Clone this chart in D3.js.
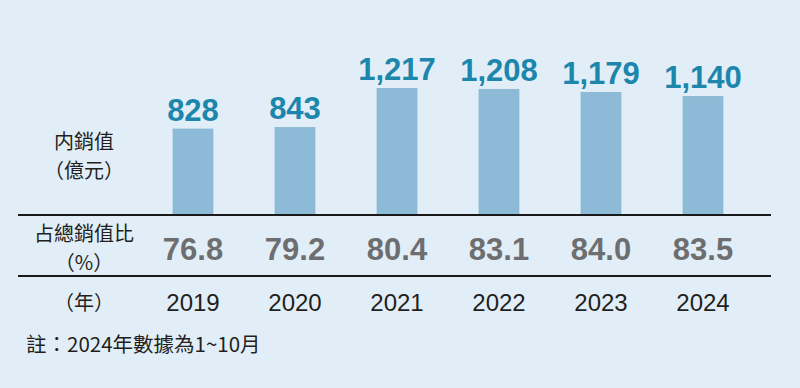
<!DOCTYPE html>
<html>
<head>
<meta charset="utf-8">
<script src="https://cdn.jsdelivr.net/npm/d3@7"></script>
<style>
  html, body { margin: 0; padding: 0; background: #e2eef7; }
  svg { display: block; }
</style>
</head>
<body>
<svg id="chart" width="800" height="388"></svg>
<script>
const years = ["2019", "2020", "2021", "2022", "2023", "2024"];
const domesticSales = [828, 843, 1217, 1208, 1179, 1140];
const shareOfTotal = ["76.8", "79.2", "80.4", "83.1", "84.0", "83.5"];
const salesLabel = ["内銷值", "（億元）"];
const shareLabel = ["占總銷值比", "（%）"];
const yearLabel = "（年）";
const footnote = "註：2024年數據為1~10月";

const W = 800, H = 388;
const svg = d3.select("#chart");
const FONT = "'Liberation Sans', Arial, 'Noto Sans CJK TC', sans-serif";
const CJK = "'Noto Sans CJK TC', 'Noto Sans CJK SC', sans-serif";

svg.append("rect").attr("width", W).attr("height", H).attr("fill", "#e2eef7");

const x = d3.scaleBand().domain(years).range([142, 754]).paddingInner(0.6).paddingOuter(0.3);
const baseY = 215;
const y = d3.scaleLinear().domain([0, 1217]).range([baseY, 88]);

const data = years.map((yr, i) => ({ yr, v: domesticSales[i], p: shareOfTotal[i] }));

// bars
svg.selectAll("rect.bar").data(data).join("rect")
  .attr("class", "bar")
  .attr("x", d => x(d.yr))
  .attr("width", x.bandwidth())
  .attr("y", d => y(d.v))
  .attr("height", d => baseY - y(d.v))
  .attr("fill", "#8dbbd7");

// value labels
svg.selectAll("text.val").data(data).join("text")
  .attr("class", "val")
  .attr("x", d => x(d.yr) + x.bandwidth() / 2)
  .attr("y", d => y(d.v) - 8)
  .attr("text-anchor", "middle")
  .attr("font-family", FONT)
  .attr("font-weight", "bold")
  .attr("font-size", 31)
  .attr("fill", "#1c86ad")
  .text(d => d3.format(",")(d.v));

// separator lines
[215, 276].forEach(ly => {
  svg.append("line").attr("x1", 18).attr("x2", 771).attr("y1", ly).attr("y2", ly)
    .attr("stroke", "#1a1a1a").attr("stroke-width", 2);
});

// percentage row
svg.selectAll("text.pct").data(data).join("text")
  .attr("class", "pct")
  .attr("x", d => x(d.yr) + x.bandwidth() / 2)
  .attr("y", 260)
  .attr("text-anchor", "middle")
  .attr("font-family", FONT)
  .attr("font-weight", "bold")
  .attr("font-size", 31)
  .attr("fill", "#6e6e70")
  .text(d => d.p);

// year row
svg.selectAll("text.yr").data(data).join("text")
  .attr("class", "yr")
  .attr("x", d => x(d.yr) + x.bandwidth() / 2)
  .attr("y", 311)
  .attr("text-anchor", "middle")
  .attr("font-family", FONT)
  .attr("font-size", 24)
  .attr("fill", "#231f20")
  .text(d => d.yr);

// left labels
const leftX = 84;
function leftBlock(lines, yy, gap) {
  const t = svg.append("text").attr("x", leftX).attr("y", yy)
    .attr("text-anchor", "middle")
    .attr("font-family", CJK)
    .attr("font-size", 20)
    .attr("fill", "#231f20");
  lines.forEach((s, i) => {
    t.append("tspan").attr("x", leftX).attr("dy", i === 0 ? 0 : gap).text(s);
  });
}
leftBlock(salesLabel, 149, 29);
leftBlock(shareLabel, 241, 28.5);
leftBlock([yearLabel], 310, 0);

svg.append("text").attr("x", 26).attr("y", 352)
  .attr("font-family", CJK)
  .attr("font-size", 20.5)
  .attr("fill", "#231f20")
  .text(footnote);
</script>
</body>
</html>
